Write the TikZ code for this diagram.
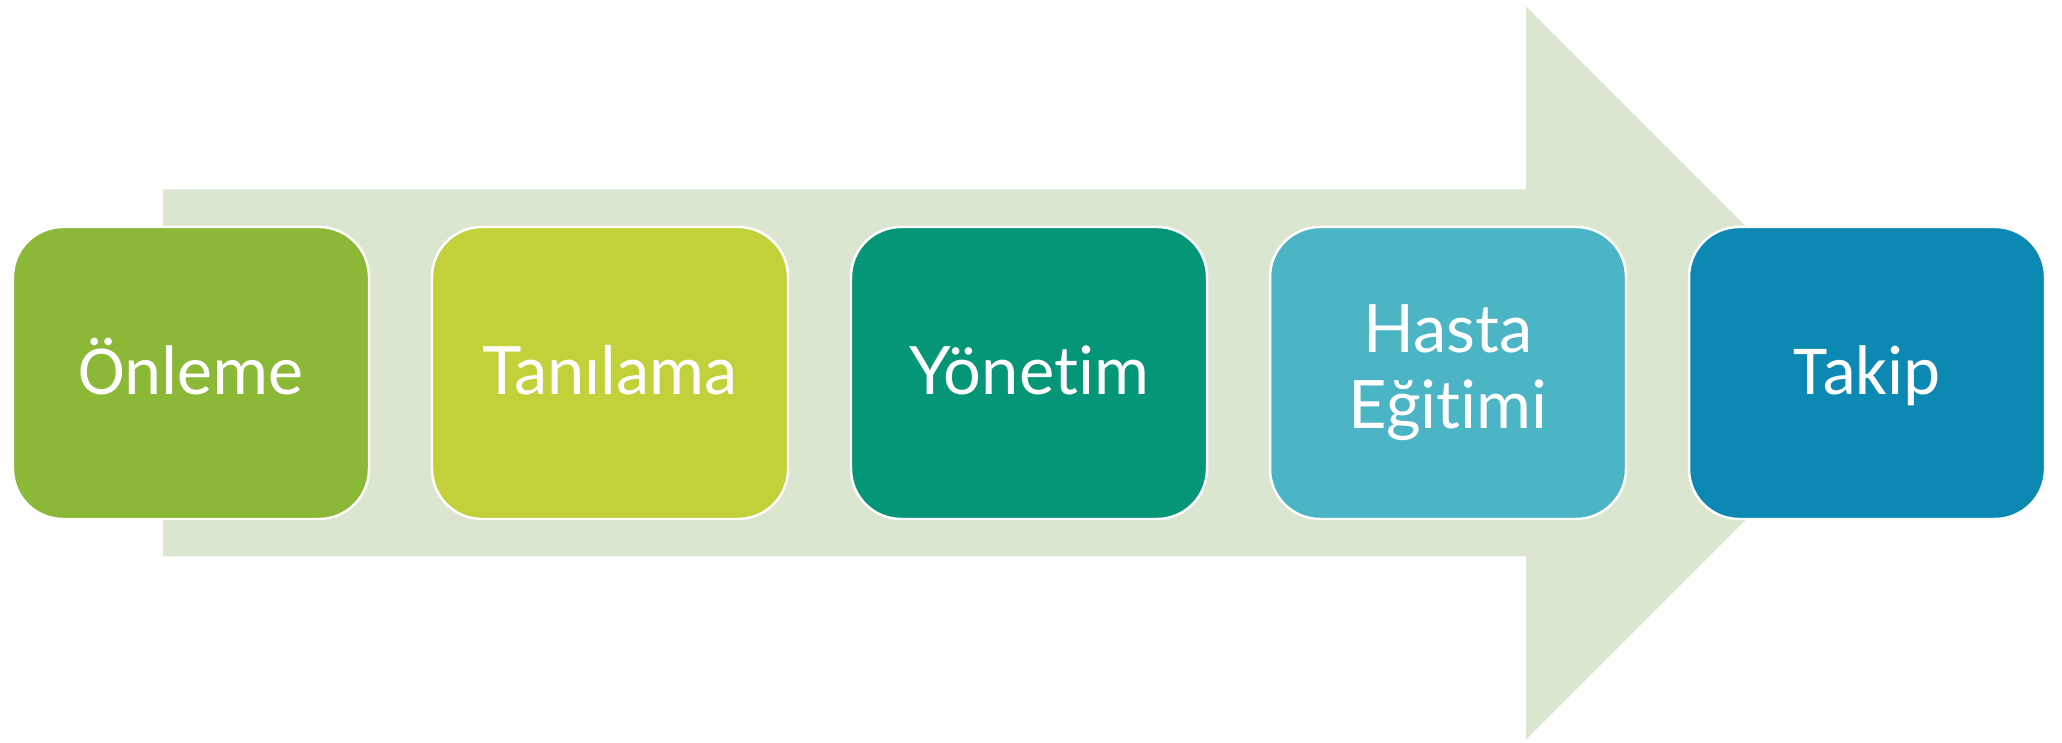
\documentclass[tikz,border=0pt]{standalone}
\usepackage{fontspec}
\setmainfont{Carlito}
\newfontfamily\gillfont[Ligatures=NoCommon]{Lato}
\usetikzlibrary{backgrounds}

\definecolor{arrowgreen}{HTML}{DBE6D0}
\definecolor{onlemecol}{HTML}{8BB836}
\definecolor{tanicol}{HTML}{C2D03A}
\definecolor{yonetcol}{HTML}{059677}
\definecolor{egitcol}{HTML}{4BB5C5}
\definecolor{takipcol}{HTML}{0C89B3}

\tikzset{
  stage/.style={draw=white, line width=0.7pt, rounded corners=0.5cm,
                minimum width=3.56cm, minimum height=2.92cm, inner sep=0pt,
                text=white, align=center},
  oneline/.style={text height=0.44cm, text depth=0cm},
  calib/.style={font=\fontsize{20}{22}\selectfont},
  gill/.style={font=\gillfont\fontsize{19}{21.6}\selectfont}
}

\begin{document}
\begin{tikzpicture}
  \useasboundingbox (0,0) rectangle (20.62,7.43);
  \fill [arrowgreen] (1.63,1.865) -- (1.63,5.535) -- (15.26,5.535) -- (15.26,7.365)
        -- (18.925,3.70) -- (15.26,0.035) -- (15.26,1.865) -- cycle;
  \node [stage, oneline, calib, fill=onlemecol] (onleme) at (1.91,3.70) {Önleme};
  \node [stage, oneline, gill, fill=tanicol] (tanilama) at (6.10,3.70) {Tanılama};
  \node [stage, oneline, gill, fill=yonetcol] (yonetim) at (10.29,3.70) {Yönetim};
  \node [stage, gill, fill=egitcol] (egitim) at (14.48,3.70) {Hasta\\Eğitimi};
  \node [stage, oneline, calib, fill=takipcol] (takip) at (18.67,3.70) {Takip};
\end{tikzpicture}
\end{document}
